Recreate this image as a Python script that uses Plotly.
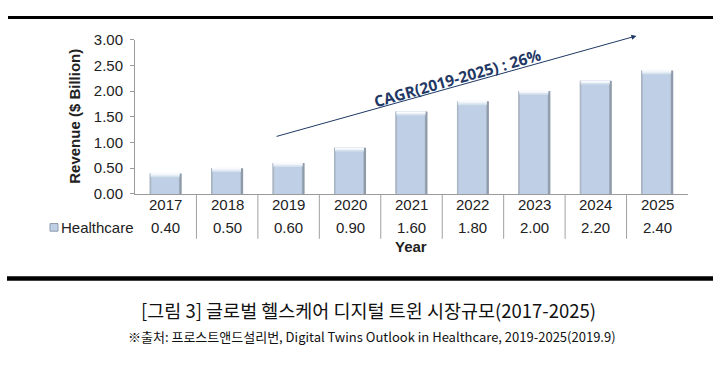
import plotly.graph_objects as go

years = ["2017", "2018", "2019", "2020", "2021", "2022", "2023", "2024", "2025"]
revenue = [0.40, 0.50, 0.60, 0.90, 1.60, 1.80, 2.00, 2.20, 2.40]
series_name = "Healthcare"
y_ticks = [0.0, 0.5, 1.0, 1.5, 2.0, 2.5, 3.0]
y_title = "Revenue ($ Billion)"
x_title = "Year"
cagr_text = "CAGR(2019-2025) : 26%"
caption = "[그림 3] 글로벌 헬스케어 디지털 트윈 시장규모(2017-2025)"
source = "※출처: 프로스트앤드설리번, Digital Twins Outlook in Healthcare, 2019-2025(2019.9)"

W, H = 717, 366
px = lambda v: v / W
py = lambda v: 1 - v / H

FONT = "Liberation Sans, Arial, sans-serif"
KFONT = "Noto Sans CJK KR, sans-serif"

fig = go.Figure()
# layered bars imitating the bevelled, shaded columns: (offset, width, colour)
body_layers = [(-0.26, 0.52, "#8e9bab"), (-0.26, 0.485, "#aab6c4"), (-0.235, 0.45, "#bfd0e6")]
for off, w, c in body_layers:
    fig.add_trace(go.Bar(x=years, y=revenue, offset=off, width=w,
                         marker=dict(color=c, line=dict(width=0)),
                         name=series_name, showlegend=False, hoverinfo="skip"))
# light cap at the top of each column
cap_layers = [(0.075, "#d6e1ee"), (0.045, "#eaf0f7"), (0.02, "#f8fafd")]
for h, c in cap_layers:
    fig.add_trace(go.Bar(x=years, y=[h] * len(revenue), base=[v - h for v in revenue],
                         offset=-0.245, width=0.47, marker=dict(color=c, line=dict(width=0)),
                         showlegend=False, hoverinfo="skip"))

fig.update_layout(
    width=W, height=H, margin=dict(l=0, r=0, t=0, b=0),
    paper_bgcolor="white", plot_bgcolor="white", barmode="overlay",
    font=dict(family=FONT, size=15, color="#222"),
    xaxis=dict(domain=[px(135), px(688)], type="category", range=[-0.5, len(years) - 0.5],
               showticklabels=False, showline=True, linecolor="#9a9a9a", linewidth=1,
               showgrid=False, ticks="", zeroline=False),
    yaxis=dict(domain=[py(194), py(32)], range=[0, 3], tickvals=y_ticks, tickformat=".2f",
               showline=True, linecolor="#9a9a9a", linewidth=1, ticks="outside", ticklen=4,
               tickcolor="#9a9a9a", showgrid=False, zeroline=False,
               tickfont=dict(family=FONT, size=15, color="#222"), ticklabelstandoff=4),
)

def A(**kw):
    kw.setdefault("xanchor", "center")
    kw.setdefault("yanchor", "middle")
    kw.setdefault("showarrow", False)
    return kw

ann = []
shapes = []
for i, (yr, v) in enumerate(zip(years, revenue)):
    ann.append(A(x=i, xref="x", y=py(205), yref="paper", text=yr,
                 font=dict(family=FONT, size=15, color="#222")))
    ann.append(A(x=i, xref="x", y=py(229), yref="paper", text=f"{v:.2f}",
                 font=dict(family=FONT, size=15, color="#222")))
for k in range(len(years) - 1):
    shapes.append(dict(type="line", xref="x", yref="paper", x0=k + 0.5, x1=k + 0.5,
                       y0=py(194), y1=py(241), line=dict(color="#a0a0a0", width=1)))

# legend-like row label
shapes.append(dict(type="rect", xref="paper", yref="paper", x0=px(50), x1=px(58),
                   y0=py(233), y1=py(225), fillcolor="#bfd0e6", line=dict(color="#8e9bab", width=1)))
ann.append(A(x=px(59), xref="paper", y=py(229), yref="paper", text=series_name,
             xanchor="left", font=dict(family=FONT, size=15, color="#222")))

ann.append(A(x=px(411), xref="paper", y=py(249), yref="paper", text=f"<b>{x_title}</b>",
             font=dict(family=FONT, size=15, color="#222")))
ann.append(A(x=px(75), xref="paper", y=py(113), yref="paper", text=f"<b>{y_title}</b>",
             textangle=-90, font=dict(family=FONT, size=15, color="#222")))

# CAGR arrow
ann.append(dict(x=7.66, y=3.07, xref="x", yref="y", ax=1.78, ay=1.11, axref="x", ayref="y",
                showarrow=True, arrowhead=2, arrowsize=1, arrowwidth=1, arrowcolor="#1f3864", text=""))
ann.append(A(x=px(457), xref="paper", y=py(72), yref="paper", text=f"<b>{cagr_text}</b>",
             textangle=-16, font=dict(family="Open Sans, sans-serif", size=15.5, color="#1f3864")))

# rules and captions
shapes.append(dict(type="line", xref="paper", yref="paper", x0=px(8), x1=px(713), y0=py(9), y1=py(9),
                   line=dict(color="black", width=3)))
shapes.append(dict(type="line", xref="paper", yref="paper", x0=px(7), x1=px(713), y0=py(282.5), y1=py(282.5),
                   line=dict(color="black", width=4.5)))
ann.append(A(x=px(368), xref="paper", y=py(316), yref="paper", text=caption,
             font=dict(family=KFONT, size=18.5, color="#111")))
ann.append(A(x=px(372), xref="paper", y=py(343), yref="paper", text=source,
             font=dict(family=KFONT, size=13, color="#111")))

fig.update_layout(annotations=ann, shapes=shapes)
fig.write_html("out.html", config={"displayModeBar": False},
               post_script="document.body.style.margin='0';document.body.style.overflow='hidden';")
